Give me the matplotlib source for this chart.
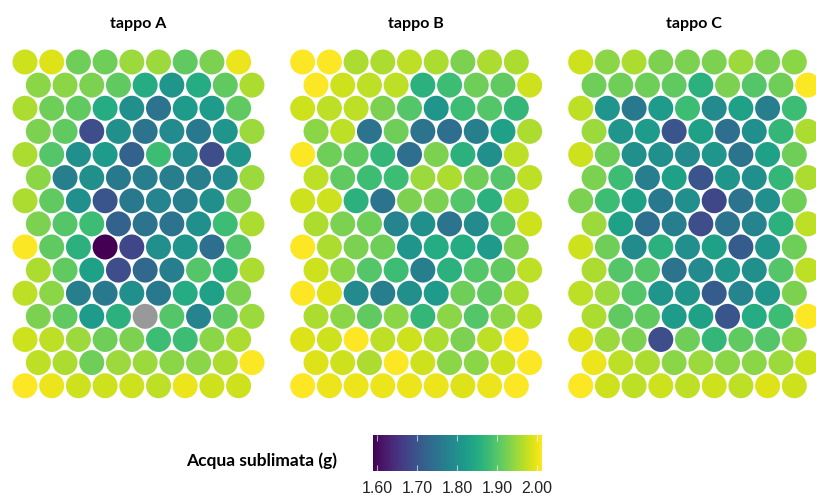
import numpy as np
import matplotlib as mpl
import matplotlib.pyplot as plt
from matplotlib.patches import Circle

nan = np.nan
panel_titles = ["tappo A", "tappo B", "tappo C"]

tappo_A = [
    [1.98, 1.99, 1.92, 1.92, 1.95, 1.95, 1.91, 1.93, 2.00],
    [1.94, 1.94, 1.93, 1.91, 1.85, 1.81, 1.85, 1.91, 1.96],
    [1.96, 1.92, 1.91, 1.85, 1.80, 1.75, 1.82, 1.82, 1.91],
    [1.93, 1.91, 1.69, 1.80, 1.75, 1.79, 1.76, 1.81, 1.95],
    [1.96, 1.90, 1.80, 1.82, 1.72, 1.88, 1.79, 1.69, 1.81],
    [1.94, 1.77, 1.80, 1.76, 1.77, 1.77, 1.77, 1.79, 1.95],
    [1.96, 1.91, 1.80, 1.70, 1.76, 1.78, 1.77, 1.80, 1.93],
    [1.93, 1.90, 1.88, 1.72, 1.75, 1.75, 1.80, 1.88, 1.96],
    [2.01, 1.91, 1.86, 1.589, 1.68, 1.80, 1.81, 1.74, 1.90],
    [1.96, 1.91, 1.83, 1.69, 1.73, 1.77, 1.90, 1.86, 1.96],
    [1.97, 1.94, 1.77, 1.76, 1.80, 1.76, 1.85, 1.83, 1.93],
    [1.93, 1.91, 1.82, 1.86, nan, 1.90, 1.78, 1.91, 1.95],
    [1.98, 1.97, 1.95, 1.92, 1.93, 1.88, 1.88, 1.94, 1.96],
    [1.97, 1.96, 1.92, 1.95, 1.95, 1.94, 1.94, 1.96, 2.01],
    [2.013, 2.00, 1.98, 1.98, 1.98, 1.97, 2.00, 1.98, 1.98],
]

tappo_B = [
    [2.01, 2.01, 1.96, 1.96, 1.97, 1.96, 1.93, 1.96, 1.96],
    [2.01, 1.98, 1.97, 1.97, 1.86, 1.88, 1.92, 1.91, 1.98],
    [1.98, 1.97, 1.97, 1.93, 1.90, 1.81, 1.88, 1.90, 1.87],
    [1.94, 1.97, 1.75, 1.92, 1.75, 1.74, 1.77, 1.83, 1.96],
    [2.01, 1.92, 1.91, 1.87, 1.74, 1.93, 1.86, 1.80, 1.97],
    [1.97, 1.91, 1.88, 1.88, 1.95, 1.96, 1.92, 1.90, 1.97],
    [1.98, 1.98, 1.86, 1.75, 1.93, 1.93, 1.90, 1.86, 1.97],
    [1.96, 1.93, 1.92, 1.78, 1.80, 1.75, 1.79, 1.90, 1.98],
    [2.01, 1.96, 1.93, 1.92, 1.81, 1.85, 1.85, 1.82, 1.93],
    [1.98, 1.94, 1.90, 1.88, 1.77, 1.86, 1.90, 1.91, 1.97],
    [2.013, 1.99, 1.79, 1.77, 1.80, 1.82, 1.92, 1.91, 1.96],
    [1.96, 1.94, 1.91, 1.94, 1.87, 1.94, 1.90, 1.94, 1.97],
    [1.99, 1.98, 2.013, 1.97, 1.98, 1.96, 1.93, 1.97, 2.01],
    [1.99, 1.98, 1.96, 2.01, 1.98, 1.94, 1.94, 1.98, 2.01],
    [2.013, 2.00, 2.00, 2.00, 2.00, 2.00, 1.99, 2.00, 2.01],
]

tappo_C = [
    [1.98, 1.94, 1.96, 1.93, 1.93, 1.93, 1.95, 1.93, 1.94],
    [1.92, 1.92, 1.92, 1.91, 1.86, 1.93, 1.90, 1.92, 2.01],
    [1.97, 1.81, 1.76, 1.82, 1.88, 1.79, 1.83, 1.77, 1.88],
    [1.95, 1.81, 1.82, 1.70, 1.83, 1.74, 1.80, 1.87, 1.96],
    [1.98, 1.92, 1.80, 1.80, 1.79, 1.81, 1.75, 1.83, 1.92],
    [1.93, 1.88, 1.77, 1.83, 1.70, 1.81, 1.80, 1.87, 1.96],
    [1.93, 1.88, 1.83, 1.76, 1.80, 1.68, 1.75, 1.80, 1.92],
    [1.95, 1.83, 1.74, 1.77, 1.69, 1.75, 1.78, 1.86, 1.97],
    [1.98, 1.92, 1.79, 1.86, 1.80, 1.83, 1.71, 1.81, 1.92],
    [1.96, 1.90, 1.90, 1.75, 1.79, 1.81, 1.80, 1.90, 1.97],
    [1.97, 1.95, 1.90, 1.81, 1.81, 1.71, 1.78, 1.81, 1.93],
    [1.96, 1.91, 1.91, 1.82, 1.83, 1.70, 1.85, 1.88, 2.01],
    [1.99, 1.95, 1.93, 1.69, 1.92, 1.87, 1.91, 1.90, 1.94],
    [2.00, 1.97, 1.96, 1.94, 1.95, 1.94, 1.94, 1.95, 1.98],
    [2.01, 1.98, 1.97, 1.98, 1.97, 1.98, 1.97, 1.99, 1.98],
]

colorbar_ticks = [1.60, 1.70, 1.80, 1.90, 2.00]
colorbar_label = "Acqua sublimata (g)"
vmin, vmax = 1.589, 2.013

panels = [tappo_A, tappo_B, tappo_C]

W, H = 816, 503
fig = plt.figure(figsize=(W / 100, H / 100), dpi=100)
cmap = plt.get_cmap("viridis")
norm = mpl.colors.Normalize(vmin=vmin, vmax=vmax)

unit = 26.7  # pixels per grid column
x_lo, x_hi = -0.6, 9.1
y_top_pad = 0.6
n_rows = 15
dy = np.sqrt(3) / 2
y_lo = -(n_rows - 1) * dy - 0.6
y_hi = y_top_pad
ax_w = (x_hi - x_lo) * unit
ax_h = (y_hi - y_lo) * unit
top_px = 62 - y_top_pad * unit
first_x_px = [25.0, 302.7, 580.7]
title_font = ["Lato", "DejaVu Sans"]
tick_font = ["Liberation Sans", "DejaVu Sans"]

for k, (vals, title) in enumerate(zip(panels, panel_titles)):
    left_px = first_x_px[k] - (0 - x_lo) * unit
    ax = fig.add_axes([left_px / W, 1 - (top_px + ax_h) / H, ax_w / W, ax_h / H])
    ax.set_xlim(x_lo, x_hi)
    ax.set_ylim(y_lo, y_hi)
    ax.set_aspect("equal")
    ax.axis("off")
    for r, row in enumerate(vals):
        for c, v in enumerate(row):
            x = c + 0.5 * (r % 2)
            y = -r * dy
            col = "#999999" if np.isnan(v) else cmap(norm(v))
            ax.add_patch(Circle((x, y), 0.468, facecolor=col, edgecolor="none"))
    cx = (first_x_px[k] + first_x_px[k] + 8.5 * unit) / 2
    fig.text(cx / W, 1 - 24 / H, title, ha="center", va="center",
             fontsize=11.5, fontweight="bold", family=title_font)

# colorbar
cax = fig.add_axes([373 / W, 1 - 471 / H, 169 / W, 36 / H])
sm = mpl.cm.ScalarMappable(norm=norm, cmap=cmap)
cb = fig.colorbar(sm, cax=cax, orientation="horizontal", ticks=colorbar_ticks)
cb.outline.set_visible(False)
cb.ax.set_xticks(colorbar_ticks)
cb.ax.set_xticklabels([f"{t:.2f}" for t in colorbar_ticks])
for lbl in cb.ax.get_xticklabels():
    lbl.set_fontfamily(tick_font)
    lbl.set_fontsize(11.5)
    lbl.set_color("#222222")
cb.ax.tick_params(axis="x", which="major", direction="in", length=4, width=0.8,
                  color=(1, 1, 1, 0.6), top=True, bottom=True, labelbottom=True,
                  labeltop=False, pad=7)
cb.ax.minorticks_off()
fig.text(337 / W, 1 - 461 / H, colorbar_label, ha="right", va="center",
         fontsize=12.5, fontweight="bold", family=title_font)

fig.savefig("out.png", dpi=100, facecolor="white")
